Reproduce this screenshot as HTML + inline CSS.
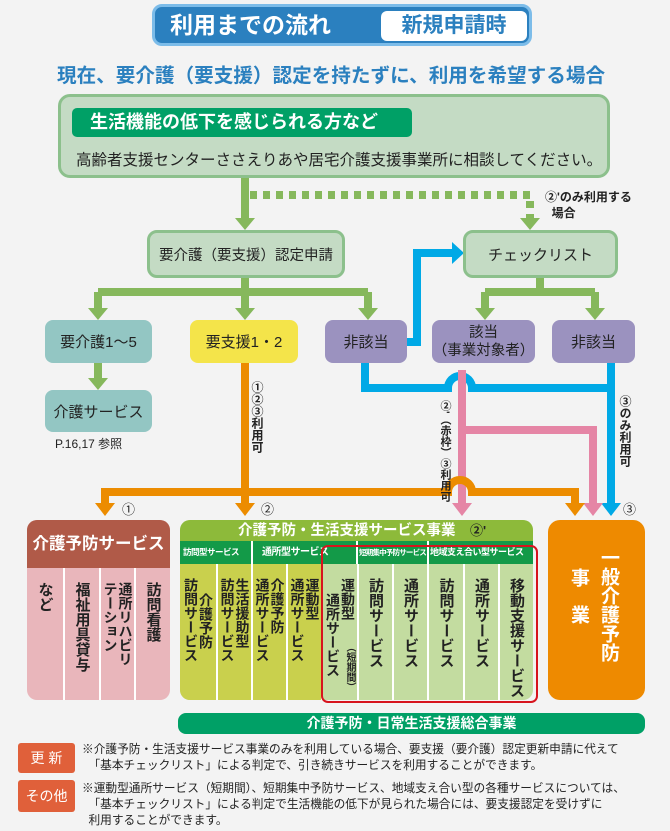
<!DOCTYPE html>
<html><head><meta charset="utf-8">
<style>
body{margin:0;background:#f3f3f3;}
#c{position:relative;width:670px;height:831px;overflow:hidden;background:#f3f3f3;font-family:"Liberation Sans","Noto Sans CJK JP",sans-serif;color:#222;}
.a{position:absolute;box-sizing:border-box;}
.box{display:flex;align-items:center;justify-content:center;font-size:15px;border-radius:8px;text-align:center;}
.v{writing-mode:vertical-rl;font-weight:bold;}
.col{position:absolute;top:0;bottom:0;display:flex;justify-content:center;padding-top:14px;box-sizing:border-box;border-left:2px solid #fff;font-size:14px;line-height:15px;font-weight:bold;}
.sh{position:absolute;top:0;white-space:nowrap;letter-spacing:-0.5px;}
</style></head><body><div id="c">
<svg class="a" style="left:0;top:0" width="670" height="831">
<g fill="none" stroke-width="8">
<path d="M245 178V220" stroke="#86b85c"/>
<path d="M250 195H530V220" stroke="#86b85c" stroke-dasharray="7,6"/>
<path d="M245 278V292M98 292H368M98 292V312M245 292V312M368 292V312" stroke="#86b85c"/>
<path d="M540 278V292M485 292H595M485 292V312M595 292V312" stroke="#86b85c"/>
<path d="M98 363V382" stroke="#86b85c"/>
<path d="M407 342H417V253H454" stroke="#00a9e6"/>
<path d="M365 363V388H448A12 12 0 0 1 472 388H611M611 363V506" stroke="#00a9e6"/>
<path d="M462 370V506M462 430H593V506" stroke="#e585a5"/>
<path d="M245 363V506M105 506V492H448A12 12 0 0 1 472 492H575V506" stroke="#ec8c00"/>
</g>
<g fill="#86b85c"><polygon points="235,218 255,218 245,230"/><polygon points="520,218 540,218 530,230"/>
<polygon points="88,308 108,308 98,320"/><polygon points="235,308 255,308 245,320"/><polygon points="358,308 378,308 368,320"/>
<polygon points="475,308 495,308 485,320"/><polygon points="585,308 605,308 595,320"/><polygon points="88,378 108,378 98,390"/></g>
<polygon points="452,242 452,264 464,253" fill="#00a9e6"/>
<polygon points="601,503 621,503 611,516" fill="#00a9e6"/>
<polygon points="452,503 472,503 462,516" fill="#e585a5"/><polygon points="583,503 603,503 593,516" fill="#e585a5"/>
<g fill="#ec8c00"><polygon points="95,503 115,503 105,516"/><polygon points="235,503 255,503 245,516"/><polygon points="565,503 585,503 575,516"/></g>
</svg>

<div class="a" style="left:152px;top:4px;width:380px;height:42px;background:#2b80bf;border:3px solid #7cbce9;border-radius:10px;"></div>
<div class="a" style="left:170px;top:8px;color:#fff;font-size:23px;font-weight:bold;line-height:34px;">利用までの流れ</div>
<div class="a" style="left:381px;top:11px;width:146px;height:30px;background:#fff;border-radius:6px;color:#2b80bf;font-size:21px;font-weight:bold;line-height:30px;text-align:center;">新規申請時</div>
<div class="a" style="left:57px;top:59px;width:580px;color:#2b80bf;font-size:19.6px;font-weight:bold;white-space:nowrap;">現在、要介護（要支援）認定を持たずに、利用を希望する場合</div>

<div class="a" style="left:58px;top:94px;width:552px;height:84px;background:#c4dbc4;border:3px solid #8cc08c;border-radius:12px;"></div>
<div class="a" style="left:72px;top:108px;width:340px;height:29px;background:#00a066;border-radius:5px;color:#fff;font-size:18px;font-weight:bold;line-height:29px;padding-left:18px;white-space:nowrap;">生活機能の低下を感じられる方など</div>
<div class="a" style="left:76px;top:148px;font-size:15.5px;white-space:nowrap;">高齢者支援センターささえりあや居宅介護支援事業所に相談してください。</div>
<div class="a" style="left:545px;top:189px;font-size:12px;font-weight:bold;line-height:16px;">②'のみ利用する<br>&nbsp;&nbsp;場合</div>

<div class="a box" style="left:147px;top:230px;width:198px;height:48px;background:#c4dbc4;border:3px solid #8cc08c;border-radius:10px;font-size:14.5px;">要介護（要支援）認定申請</div>
<div class="a box" style="left:463px;top:230px;width:155px;height:48px;background:#c4dbc4;border:3px solid #8cc08c;border-radius:10px;">チェックリスト</div>

<div class="a box" style="left:45px;top:320px;width:107px;height:43px;background:#93c6c3;">要介護1〜5</div>
<div class="a box" style="left:190px;top:320px;width:108px;height:43px;background:#f4e44a;">要支援1・2</div>
<div class="a box" style="left:325px;top:320px;width:82px;height:43px;background:#9b92bf;">非該当</div>
<div class="a box" style="left:432px;top:320px;width:103px;height:43px;background:#9b92bf;flex-direction:column;line-height:18px;font-size:14.5px;">該当<br>（事業対象者）</div>
<div class="a box" style="left:552px;top:320px;width:83px;height:43px;background:#9b92bf;">非該当</div>
<div class="a box" style="left:45px;top:390px;width:107px;height:42px;background:#93c6c3;">介護サービス</div>
<div class="a" style="left:55px;top:435px;font-size:12px;">P.16,17 参照</div>

<div class="a v" style="left:250px;top:381px;font-size:12px;line-height:14px;">①②③利用可</div>
<div class="a v" style="left:438px;top:400px;font-size:11px;line-height:13px;">②'（赤枠）③利用可</div>
<div class="a v" style="left:618px;top:395px;font-size:12px;line-height:14px;">③のみ利用可</div>
<div class="a" style="left:122px;top:499px;font-size:13px;">①</div>
<div class="a" style="left:261px;top:499px;font-size:13px;">②</div>
<div class="a" style="left:623px;top:499px;font-size:13px;">③</div>

<div class="a" style="left:27px;top:520px;width:143px;height:180px;background:#e9b6bb;border-radius:10px;overflow:hidden;">
 <div class="a" style="left:0;top:0;width:143px;height:48px;background:#b05a48;color:#fff;font-size:16.5px;font-weight:bold;line-height:48px;text-align:center;">介護予防サービス</div>
 <div class="a" style="left:0;top:48px;width:143px;height:132px;">
  <div class="col" style="left:0;width:36px;border-left:none;font-size:15px"><span class="v">など</span></div>
  <div class="col" style="left:36px;width:36px;font-size:15px"><span class="v">福祉用具貸与</span></div>
  <div class="col" style="left:72px;width:35px;"><span class="v">通所リハビリ<br>テーション</span></div>
  <div class="col" style="left:107px;width:36px;font-size:15px"><span class="v">訪問看護</span></div>
 </div>
</div>

<div class="a" style="left:180px;top:520px;width:353px;height:180px;background:#c3dca0;border-radius:10px;overflow:hidden;">
 <div class="a" style="left:0;top:0;width:353px;height:21px;background:#8dba3a;color:#fff;font-size:14.5px;font-weight:bold;line-height:21px;padding-left:58px;">介護予防・生活支援サービス事業　<span style="color:#222;font-size:13px">②'</span></div>
 <div class="a" style="left:0;top:21px;width:353px;height:23px;background:#139a48;color:#fff;font-size:8.5px;font-weight:bold;line-height:23px;">
  <span class="sh" style="left:3px;">訪問型サービス</span><span class="sh" style="left:82px;font-size:10px">通所型サービス</span><span class="sh" style="left:179px;font-size:7.5px;letter-spacing:-0.8px">短期集中予防サービス</span><span class="sh" style="left:250px;font-size:9px">地域支え合い型サービス</span>
  <span class="a" style="left:71px;top:0;width:2px;height:23px;background:#fff"></span><span class="a" style="left:176px;top:0;width:2px;height:23px;background:#fff"></span><span class="a" style="left:247px;top:0;width:2px;height:23px;background:#fff"></span>
 </div>
 <div class="a" style="left:0;top:44px;width:353px;height:136px;">
  <div class="col" style="left:0;width:36px;border-left:none;background:#c9d04d"><span class="v"><span style="padding-top:15px">介護予防</span><br>訪問サービス</span></div>
  <div class="col" style="left:36px;width:35px;background:#c9d04d"><span class="v">生活援助型<br>訪問サービス</span></div>
  <div class="col" style="left:71px;width:35px;background:#c9d04d"><span class="v">介護予防<br>通所サービス</span></div>
  <div class="col" style="left:106px;width:35px;background:#c9d04d"><span class="v">運動型<br>通所サービス</span></div>
  <div class="col" style="left:141px;width:36px;">
   <span class="v a" style="right:2px;top:14px;">運動型</span>
   <span class="v a" style="right:17px;top:29px;">通所サービス</span>
   <span class="v a" style="right:2px;top:78px;font-size:10px;line-height:12px;">（短期間）</span>
  </div>
  <div class="col" style="left:177px;width:35px;font-size:15px"><span class="v">訪問サービス</span></div>
  <div class="col" style="left:212px;width:35px;font-size:15px"><span class="v">通所サービス</span></div>
  <div class="col" style="left:247px;width:36px;font-size:15px"><span class="v">訪問サービス</span></div>
  <div class="col" style="left:283px;width:35px;font-size:15px"><span class="v">通所サービス</span></div>
  <div class="col" style="left:318px;width:35px;font-size:15px"><span class="v">移動支援サービス</span></div>
 </div>
</div>
<div class="a" style="left:321px;top:545px;width:217px;height:158px;border:2.5px solid #d7141e;border-radius:7px;"></div>

<div class="a" style="left:548px;top:520px;width:97px;height:180px;background:#ee8a00;border-radius:12px;color:#fff;">
 <div class="a v" style="left:50px;top:28px;font-size:19px;line-height:20px;">一般介護予防</div>
 <div class="a v" style="left:20px;top:48px;font-size:19px;line-height:20px;letter-spacing:18px;">事業</div>
</div>

<div class="a" style="left:178px;top:713px;width:467px;height:21px;background:#00a066;border-radius:8px;color:#fff;font-size:14px;font-weight:bold;line-height:21px;text-align:center;">介護予防・日常生活支援総合事業</div>
<div class="a" style="left:18px;top:743px;width:57px;height:30px;background:#e0603a;border-radius:3px;color:#fff;font-size:14px;line-height:30px;text-align:center;">更 新</div>
<div class="a" style="left:18px;top:780px;width:57px;height:32px;background:#e0603a;border-radius:3px;color:#fff;font-size:14px;line-height:32px;text-align:center;">その他</div>
<div class="a" style="left:82px;top:742px;font-size:11.7px;line-height:16px;white-space:nowrap;">※介護予防・生活支援サービス事業のみを利用している場合、要支援（要介護）認定更新申請に代えて<br>&nbsp;&nbsp;「基本チェックリスト」による判定で、引き続きサービスを利用することができます。</div>
<div class="a" style="left:82px;top:781px;font-size:11.7px;line-height:16px;white-space:nowrap;">※運動型通所サービス（短期間）、短期集中予防サービス、地域支え合い型の各種サービスについては、<br>&nbsp;&nbsp;「基本チェックリスト」による判定で生活機能の低下が見られた場合には、要支援認定を受けずに<br>&nbsp;&nbsp;利用することができます。</div>
</div></body></html>
